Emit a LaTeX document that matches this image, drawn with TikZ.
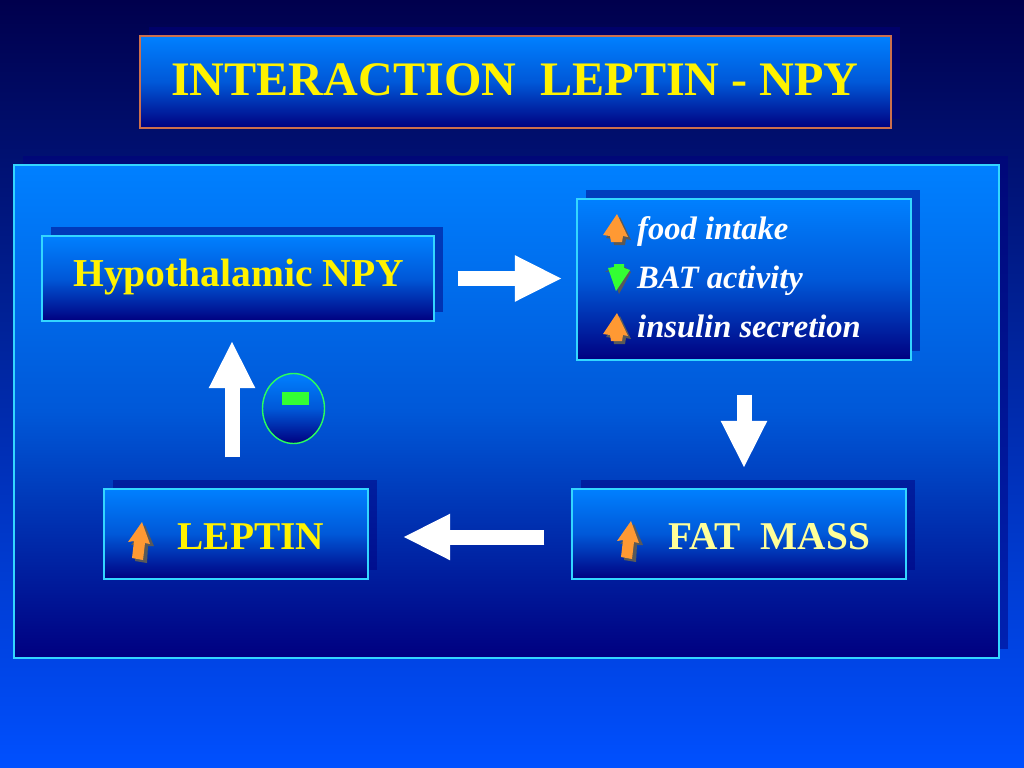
\documentclass[tikz,border=0pt]{standalone}
\usepackage{fontspec}
\setmainfont{Liberation Serif}
\usetikzlibrary{arrows.meta,shadows,shapes.geometric}
\def\px{0.8536pt}
\definecolor{boxtop}{HTML}{0080FF}
\definecolor{boxmiddle}{HTML}{0058D8}
\definecolor{boxbottom}{HTML}{000080}
\definecolor{pageTop}{HTML}{00004D}
\definecolor{pageBottom}{HTML}{0050FF}
\definecolor{boxedge}{HTML}{33D6FF}
\definecolor{titleedge}{HTML}{CC6F4D}
\definecolor{upfill}{HTML}{FF9933}
\definecolor{downfill}{HTML}{33FF33}
\definecolor{arrowshade}{HTML}{595959}
\definecolor{fatyellow}{HTML}{FFFF99}
\tikzset{
  bluebox/.style={rectangle,inner sep=0pt,top color=boxtop,bottom color=boxbottom,middle color=boxmiddle,
    draw=boxedge,line width=1.1pt,
    general shadow={fill=boxbottom,fill opacity=0.5,draw=none,
      shadow xshift=9*\px,shadow yshift=9*\px}},
  bigarrow/.style={draw=white,line width=12.8pt,
    -{Triangle[length=40.5pt,width=36.5pt,fill=white]}},
  titletext/.style={font=\fontsize{41.1}{41.1}\selectfont\bfseries,text=yellow,anchor=base west,inner sep=0pt},
  boxtext/.style={font=\fontsize{33.6}{33.6}\selectfont\bfseries,text=yellow,anchor=base west,inner sep=0pt},
  effecttext/.style={font=\fontsize{27.8}{27.8}\selectfont\bfseries\itshape,text=white,anchor=base west,inner sep=0pt},
  pics/tallup/.style={code={
    \fill[arrowshade] (3,3) -- (-11,23) -- (-5,22) -- (-7,39) -- (5,41) -- (6,24) -- (12,24) -- cycle;
    \fill[upfill] (0,0) -- (-14,20) -- (-8,19) -- (-10,36) -- (1,38) -- (3,21) -- (8,22) -- cycle;}},
  pics/stubup/.style={code={
    \fill[arrowshade] (3,3) -- (-11,24) -- (-4,25) -- (-3,31) -- (8,31) -- (9,25) -- (14,26) -- cycle;
    \fill[upfill] (0,0) -- (-14,21) -- (-7,22) -- (-6,28) -- (5,28) -- (6,22) -- (11,23) -- cycle;}},
  pics/stubdown/.style={code={
    \fill[arrowshade] (3,3) -- (-5,-20) -- (-11,-19) -- (-2,-24) -- (9,-24) -- (15,-19) -- cycle;
    \fill[downfill] (0,0) -- (-8,-23) -- (-2,-24) -- (-2,-27) -- (8,-27) -- (8,-23) -- (14,-21) -- cycle;}}
}
\begin{document}
\begin{tikzpicture}[x=\px,y=-\px]
\useasboundingbox (0,0) rectangle (1024,768);
\shade[top color=pageTop,bottom color=pageBottom] (0,0) rectangle (1024,768);
\node [bluebox,draw=titleedge,minimum width=751*\px,minimum height=92*\px] (title) at (515.5,82) {};
\node [titletext] (titlelabel) at (171,96) {INTERACTION\ \ LEPTIN - NPY};
\node [bluebox,minimum width=985*\px,minimum height=493*\px] (panel) at (506.5,411.5) {};
\node [bluebox,minimum width=392*\px,minimum height=85*\px] (npy) at (238,278.5) {};
\node [boxtext,font=\fontsize{33.8}{33.8}\selectfont\bfseries] (npylabel) at (73,286) {Hypothalamic NPY};
\node [bluebox,minimum width=334*\px,minimum height=161*\px] (effects) at (744,279.5) {};
\node [effecttext] (food) at (637,239) {food intake};
\node [effecttext] (bat) at (637,288) {BAT activity};
\node [effecttext] (insulin) at (637,337) {insulin secretion};
\pic at (617,214) {stubup};
\pic at (616,291) {stubdown};
\pic at (617,313) {stubup};
\node [bluebox,minimum width=334*\px,minimum height=90*\px] (fat) at (739,534) {};
\node [boxtext,text=fatyellow] (fatlabel) at (668,549) {FAT\ \ MASS};
\pic at (631,521) {tallup};
\node [bluebox,minimum width=264*\px,minimum height=90*\px] (leptin) at (236,534) {};
\node [boxtext] (leptinlabel) at (177.5,549) {LEPTIN};
\pic at (142,522) {tallup};
\node [ellipse,inner sep=0pt,top color=boxtop,bottom color=boxbottom,middle color=boxmiddle,draw=downfill!80!cyan,line width=1.2pt,
  minimum width=62*\px,minimum height=70*\px] (sign) at (293.5,408.5) {};
\node [rectangle,fill=downfill,inner sep=0pt,minimum width=27*\px,minimum height=13*\px] (minus) at (295.5,398.5) {};
\draw [bigarrow,shorten <=23*\px,shorten >=14*\px] (npy.east) -- (effects.west |- npy.east);
\draw [bigarrow,shorten <=34*\px,shorten >=20*\px] (effects.south) -- (effects.south |- fat.north);
\draw [bigarrow,shorten <=27*\px,shorten >=34*\px] ([yshift=-3*\px]fat.west) -- ([yshift=-3*\px]leptin.east);
\draw [bigarrow,shorten <=31*\px,shorten >=19*\px] ([xshift=-4*\px]leptin.north) -- ([xshift=-4*\px]leptin.north |- npy.south);
\end{tikzpicture}
\end{document}
